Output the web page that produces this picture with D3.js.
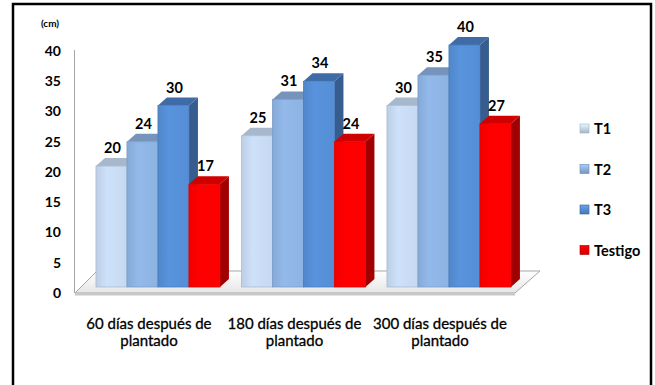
<!DOCTYPE html>
<meta charset="utf-8">
<style>
body{margin:0;background:#fff;}
svg{display:block}
text{font-family:Lato, "Open Sans", sans-serif;fill:#000;}
</style>
<svg id="chart" width="655" height="385"></svg>
<script src="https://d3js.org/d3.v7.min.js"></script>
<script>
// chart data
const categories = ["60 días después de plantado", "180 días después de plantado", "300 días después de plantado"]
const series = ["T1", "T2", "T3", "Testigo"]
const T1 = [20, 25, 30]
const T2 = [24, 31, 35]
const T3 = [30, 34, 40]
const Testigo = [17, 24, 27]
const yTicks = [0, 5, 10, 15, 20, 25, 30, 35, 40]

const values = [T1, T2, T3, Testigo]
// front / top / side colours for each series
const colours = {
  T1: {front: "#c6d9f1", top: "#a7b8cc", side: "#9aaec6", edge: "#a9bcd3"},
  T2: {front: "#8db3e2", top: "#7694bb", side: "#6a88b0", edge: "#7a9dc9"},
  T3: {front: "#558ed5", top: "#3f6ca6", side: "#375d8e", edge: "#4a7dbd"},
  Testigo: {front: "#ff0000", top: "#cf0000", side: "#a00000", edge: "#e00000"}
}

const svg = d3.select("#chart")
const dx = 9, dy = 8  // depth of bars

// frame
svg.append("rect")
  .attr("x", 13).attr("y", 4)
  .attr("width", 638).attr("height", 400)
  .attr("fill", "none").attr("stroke", "#000").attr("stroke-width", 2.5)

const y = d3.scaleLinear().domain([0, 40]).range([287, 45])
const x0 = d3.scaleBand().domain(categories)
  .range([85.2, 521.7]).paddingInner(0.148).paddingOuter(0.074)
const x1 = d3.scaleBand().domain(series).range([0, x0.bandwidth()])

// front gradients
const defs = svg.append("defs")
series.forEach(s => {
  const g = defs.append("linearGradient").attr("id", "g" + s)
  g.append("stop").attr("offset", "0%").attr("stop-color", d3.color(colours[s].front).darker(0.15))
  g.append("stop").attr("offset", "35%").attr("stop-color", d3.color(colours[s].front).brighter(0.1))
  g.append("stop").attr("offset", "100%").attr("stop-color", colours[s].front)
  const l = defs.append("linearGradient").attr("id", "l" + s).attr("x2", 0).attr("y2", 1)
  l.append("stop").attr("offset", "0%").attr("stop-color", d3.color(colours[s].front).brighter(0.4))
  l.append("stop").attr("offset", "100%").attr("stop-color", d3.color(colours[s].front).darker(0.5))
})
const fg = defs.append("linearGradient").attr("id", "floor").attr("x2", 0).attr("y2", 1)
fg.append("stop").attr("offset", "0%").attr("stop-color", "#ffffff")
fg.append("stop").attr("offset", "100%").attr("stop-color", "#e6e6e6")

// floor
const fl = 75, fr = 515, fy = 293, by = 271, depth = 23
svg.append("path")
  .attr("d", `M${fl},${fy}L${fr},${fy}L${fr + depth + 2},${by}L${fl + depth - 1},${by}Z`)
  .attr("fill", "url(#floor)").attr("stroke", "#a6a6a6").attr("stroke-width", 1)
svg.append("rect")
  .attr("x", fl).attr("y", fy).attr("width", fr - fl).attr("height", 2.5)
  .attr("fill", "#c8c8c8")

// y axis line
svg.append("line")
  .attr("x1", 74.5).attr("x2", 74.5).attr("y1", 50).attr("y2", 293)
  .attr("stroke", "#a6a6a6").attr("stroke-width", 1)

// y tick labels
svg.append("g").selectAll("text").data(yTicks).join("text")
  .attr("x", 61).attr("y", d => y(d) + 6)
  .attr("dy", "0.35em")
  .attr("text-anchor", "end")
  .style("font-size", "14px").style("font-weight", "bold")
  .text(d => d)

svg.append("text")
  .attr("x", 50).attr("y", 27)
  .attr("text-anchor", "middle")
  .style("font-size", "10px").style("font-weight", "bold")
  .text("(cm)")

// bars, drawn left to right so each bar hides its neighbour's side
categories.forEach((c, ci) => {
  const gx = x0(c)
  series.forEach((s, si) => {
    const v = values[si][ci]
    const bx = gx + x1(s), bw = x1.bandwidth()
    const top = y(v), bot = y(0)
    const g = svg.append("g")
    g.append("path")
      .attr("d", `M${bx + bw},${top}L${bx + bw + dx},${top - dy}L${bx + bw + dx},${bot - dy}L${bx + bw},${bot}Z`)
      .attr("fill", colours[s].side)
    g.append("path")
      .attr("d", `M${bx},${top}L${bx + dx},${top - dy}L${bx + bw + dx},${top - dy}L${bx + bw},${top}Z`)
      .attr("fill", colours[s].top)
    g.append("rect")
      .attr("x", bx).attr("y", top).attr("width", bw).attr("height", bot - top)
      .attr("fill", `url(#g${s})`)
      .attr("stroke", colours[s].edge).attr("stroke-width", 0.8)
    g.append("text")
      .attr("x", bx + bw / 2 + 1).attr("y", top - dy - 5)
      .attr("text-anchor", "middle")
      .style("font-size", "14.5px").style("font-weight", "bold")
      .text(v)
  })
})

// category labels
categories.forEach(c => {
  const words = c.split(" ")
  const cx = x0(c) + x0.bandwidth() / 2 - 9
  const t = svg.append("text")
    .attr("x", cx).attr("y", 329)
    .attr("text-anchor", "middle")
    .style("font-size", "15px").style("font-weight", "normal")
    .style("stroke", "#000").style("stroke-width", 0.3)
  t.append("tspan").text(words.slice(0, -1).join(" "))
  t.append("tspan").attr("x", cx).attr("dy", 17).text(words[words.length - 1])
})

// legend
const legend = svg.append("g").selectAll("g").data(series).join("g")
  .attr("transform", (d, i) => `translate(580,${124 + i * 40.5})`)
legend.append("rect")
  .attr("width", 9).attr("height", 9)
  .attr("fill", d => `url(#l${d})`)
  .attr("stroke", d => colours[d].side).attr("stroke-width", 0.6)
legend.append("text")
  .attr("x", 14).attr("y", 5).attr("dy", "0.35em")
  .style("font-size", "14.5px").style("font-weight", "bold")
  .text(d => d)
</script>
